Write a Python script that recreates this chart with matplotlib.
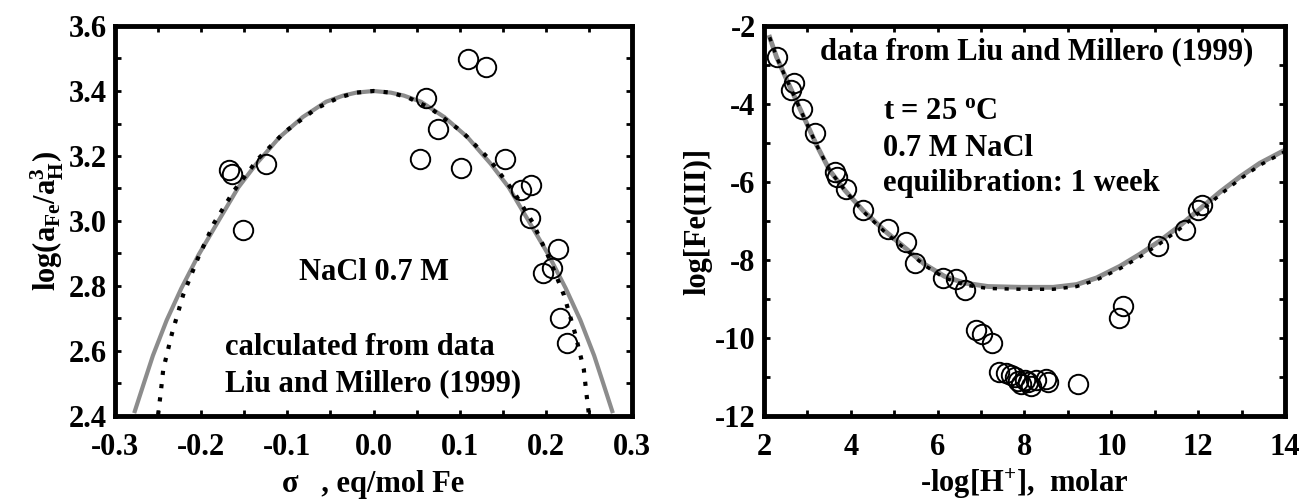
import numpy as np
import matplotlib
matplotlib.use("Agg")
import matplotlib.pyplot as plt
from matplotlib.ticker import MultipleLocator

plt.rcParams['font.family'] = ['Liberation Serif', 'DejaVu Serif']
plt.rcParams['font.weight'] = 'bold'
plt.rcParams['axes.labelweight'] = 'bold'
plt.rcParams['axes.unicode_minus'] = False
plt.rcParams['mathtext.fontset'] = 'custom'
plt.rcParams['mathtext.rm'] = 'Liberation Serif:bold'
plt.rcParams['mathtext.bf'] = 'Liberation Serif:bold'
plt.rcParams['mathtext.it'] = 'Liberation Serif:bold'

# left panel: sigma vs log(aFe/aH^3)
sig_pts = [-0.168, -0.164, -0.152, -0.125, 0.054, 0.061, 0.075, 0.101, 0.110, 0.130,
           0.153, 0.171, 0.183, 0.181, 0.214, 0.197, 0.207, 0.216, 0.224]
loga_pts = [3.156, 3.144, 2.972, 3.176, 3.192, 3.377, 3.282, 3.162, 3.499, 3.474,
            3.192, 3.094, 3.110, 3.010, 2.913, 2.841, 2.856, 2.703, 2.626]

sig_fit = [-0.277, -0.266, -0.256, -0.240, -0.223, -0.203, -0.180, -0.157, -0.136, -0.109,
           -0.082, -0.055, -0.035, -0.020, 0.0, 0.020, 0.035, 0.055, 0.082, 0.109, 0.136,
           0.157, 0.180, 0.203, 0.223, 0.240, 0.256, 0.266, 0.277]
loga_fit = [2.415, 2.505, 2.586, 2.695, 2.793, 2.896, 3.000, 3.103, 3.176, 3.258,
            3.320, 3.367, 3.386, 3.395, 3.400, 3.395, 3.386, 3.367, 3.320, 3.258, 3.176,
            3.103, 3.000, 2.896, 2.793, 2.695, 2.586, 2.505, 2.415]

sig_dot = [-0.250, -0.247, -0.244, -0.234, -0.221, -0.204, -0.185, -0.162, -0.134, -0.103,
           -0.066, -0.040, -0.020, 0.0, 0.020, 0.040, 0.066, 0.103, 0.134, 0.162, 0.185,
           0.204, 0.221, 0.234, 0.244, 0.247, 0.250]
loga_dot = [2.404, 2.470, 2.544, 2.653, 2.772, 2.884, 2.994, 3.093, 3.191, 3.274,
            3.347, 3.380, 3.395, 3.400, 3.395, 3.380, 3.347, 3.274, 3.191, 3.093, 2.994,
            2.884, 2.772, 2.653, 2.544, 2.470, 2.404]

# right panel: -log[H+] vs log[Fe(III)]
ph_pts = [2.29, 2.69, 2.63, 2.88, 3.17, 3.63, 3.67, 3.90, 4.28, 4.86, 5.28, 5.47,
          6.12, 6.43, 6.62, 6.89, 7.03, 7.25, 7.41, 7.58, 7.70, 7.78, 7.85, 7.93,
          8.01, 8.08, 8.16, 8.26, 8.54, 8.50, 9.23, 10.27, 10.18, 11.08, 11.69,
          12.00, 12.08]
fe_pts = [-2.80, -3.45, -3.64, -4.14, -4.75, -5.74, -5.87, -6.17, -6.73, -7.21,
          -7.55, -8.07, -8.46, -8.50, -8.76, -9.80, -9.90, -10.12, -10.88, -10.90,
          -10.95, -11.01, -11.09, -11.18, -11.07, -11.14, -11.22, -11.07, -11.14,
          -11.05, -11.18, -9.19, -9.49, -7.64, -7.23, -6.72, -6.60]

ph_fit = [2.13, 2.29, 2.52, 2.75, 2.98, 3.21, 3.51, 3.86, 4.28, 4.78, 5.24, 5.70,
          6.16, 6.62, 7.16, 7.93, 8.66, 9.20, 9.66, 10.20, 10.66, 11.12, 11.58,
          12.04, 12.50, 12.96, 13.42, 14.0]
fe_fit = [-2.29, -2.80, -3.37, -3.93, -4.49, -5.05, -5.70, -6.21, -6.73, -7.25,
          -7.68, -8.11, -8.42, -8.59, -8.68, -8.70, -8.70, -8.63, -8.46, -8.16,
          -7.85, -7.51, -7.12, -6.69, -6.26, -5.87, -5.52, -5.18]
fe_dash = [-2.29, -2.80, -3.37, -3.93, -4.49, -5.05, -5.70, -6.21, -6.75, -7.28,
           -7.71, -8.14, -8.46, -8.64, -8.73, -8.75, -8.75, -8.68, -8.51, -8.22,
           -7.92, -7.58, -7.20, -6.77, -6.33, -5.93, -5.57, -5.22]

x1_ticks = [-0.3, -0.2, -0.1, 0.0, 0.1, 0.2, 0.3]
x1_labels = ['-0.3', '-0.2', '-0.1', '0.0', '0.1', '0.2', '0.3']
y1_ticks = [2.4, 2.6, 2.8, 3.0, 3.2, 3.4, 3.6]
y1_labels = ['2.4', '2.6', '2.8', '3.0', '3.2', '3.4', '3.6']
x2_ticks = [2, 4, 6, 8, 10, 12, 14]
x2_labels = ['2', '4', '6', '8', '10', '12', '14']
y2_ticks = [-12, -10, -8, -6, -4, -2]
y2_labels = ['-12', '-10', '-8', '-6', '-4', '-2']

gray = '#8c8c8c'
fs = 22
fig = plt.figure(figsize=(13.04, 5.0), dpi=100)
ax1 = fig.add_axes([0.0882, 0.168, 0.3965, 0.780])
ax2 = fig.add_axes([0.5859, 0.168, 0.3995, 0.780])

ax1.plot(sig_fit, loga_fit, color=gray, lw=3, zorder=2)
ax1.plot(sig_dot, loga_dot, color='black', lw=3, ls=(0, (1, 2.2)), zorder=3)
ax1.plot(sig_pts, loga_pts, 'o', ms=14, mfc='none', mec='black', mew=1.4, zorder=4)
ax1.set_xlim(-0.3, 0.3)
ax1.set_ylim(2.4, 3.6)
ax1.set_xticks(x1_ticks)
ax1.set_xticklabels(x1_labels, fontweight='bold')
ax1.set_yticks(y1_ticks)
ax1.set_yticklabels(y1_labels, fontweight='bold')
ax1.xaxis.set_minor_locator(MultipleLocator(0.05))
ax1.yaxis.set_minor_locator(MultipleLocator(0.1))
ax1.set_xlabel('σ   , eq/mol Fe', fontsize=fs, fontweight='bold', labelpad=6)
ax1.set_ylabel(r'log(a$_{\rm Fe}$/a$^{\rm 3}_{\rm H}$)', fontsize=fs, fontweight='bold', labelpad=2)
ax1.text(0.0, 2.84, 'NaCl 0.7 M', fontsize=fs, ha='center', va='center')
ax1.text(-0.172, 2.61, 'calculated from data', fontsize=fs, ha='left', va='center')
ax1.text(-0.172, 2.50, 'Liu and Millero (1999)', fontsize=fs, ha='left', va='center')

ax2.plot(ph_fit, fe_fit, color=gray, lw=3.5, zorder=2)
ax2.plot(ph_fit, fe_dash, color='black', lw=2.5, ls=(0, (1.2, 2.2)), zorder=3)
ax2.plot(ph_pts, fe_pts, 'o', ms=14, mfc='none', mec='black', mew=1.4, zorder=4)
ax2.set_xlim(2, 14)
ax2.set_ylim(-12, -2)
ax2.set_xticks(x2_ticks)
ax2.set_xticklabels(x2_labels, fontweight='bold')
ax2.set_yticks(y2_ticks)
ax2.set_yticklabels(y2_labels, fontweight='bold')
ax2.xaxis.set_minor_locator(MultipleLocator(1))
ax2.yaxis.set_minor_locator(MultipleLocator(1))
ax2.set_xlabel(r'-log[H$^{+}$],  molar', fontsize=fs, fontweight='bold', labelpad=4)
ax2.set_ylabel('log[Fe(III)]', fontsize=fs, fontweight='bold', labelpad=2)
ax2.text(3.29, -2.67, 'data from Liu and Millero (1999)', fontsize=fs, ha='left', va='center')
ax2.text(4.74, -4.19, r't = 25 $^{\rm o}$C', fontsize=fs, ha='left', va='center')
ax2.text(4.74, -5.13, '0.7 M NaCl', fontsize=fs, ha='left', va='center')
ax2.text(4.74, -6.04, 'equilibration: 1 week', fontsize=fs, ha='left', va='center')

for ax in (ax1, ax2):
    for s in ax.spines.values():
        s.set_linewidth(3.5)
    ax.tick_params(which='both', direction='in', top=True, right=True,
                   length=4, width=2, labelsize=fs)
    ax.tick_params(axis='x', pad=12)
    ax.tick_params(axis='y', pad=6)

fig.savefig('out.png', dpi=100)
